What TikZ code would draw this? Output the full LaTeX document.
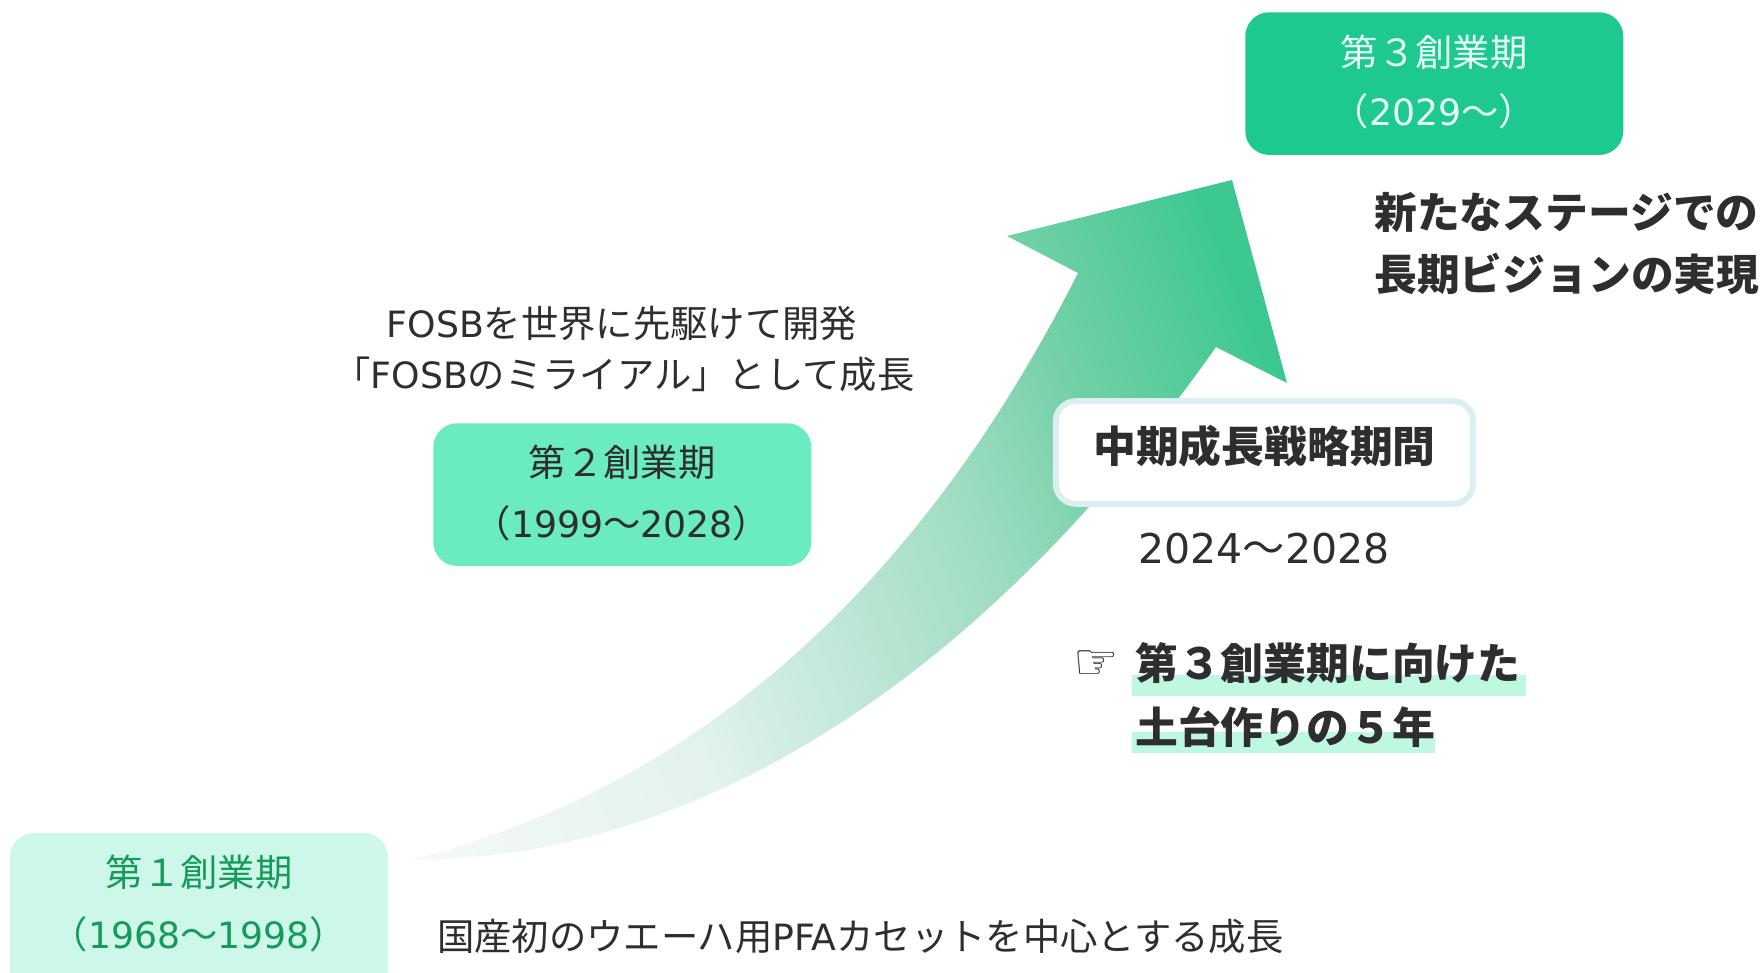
\documentclass[tikz,border=0pt]{standalone}
\usepackage{fontspec}
\setmainfont{Noto Sans CJK JP}
\newfontfamily\latinf[Scale=0.97]{DejaVu Sans}
\newfontfamily\handf{DejaVu Sans}
\newcommand{\La}[1]{{\latinf #1}}
\definecolor{txt}{HTML}{2E2E2E}
\definecolor{boxa}{HTML}{CDF8E9}
\definecolor{boxb}{HTML}{6AEBC0}
\definecolor{boxc}{HTML}{1DC98F}
\definecolor{texta}{HTML}{169A5C}
\definecolor{textc}{HTML}{E6FFF5}
\definecolor{hilite}{HTML}{BFF8E0}
\definecolor{midb}{HTML}{DCEFF0}
\definecolor{gA}{HTML}{F5F9F9}
\definecolor{gB}{HTML}{E3F2EE}
\definecolor{gC}{HTML}{9CDCC0}
\definecolor{gD}{HTML}{75D0A8}
\definecolor{gE}{HTML}{3CC890}
\pgfdeclarehorizontalshading{arrowgrad}{100bp}{
  color(0bp)=(gA); color(27bp)=(gA); color(42.5bp)=(gB); color(60bp)=(gC); color(66.5bp)=(gD); color(76.5bp)=(gE); color(100bp)=(gE)}
\tikzset{
  x=0.75pt,y=-0.75pt,
  phasebox/.style={minimum width=283.5pt,minimum height=107pt,rounded corners=18pt,inner sep=0pt,anchor=north west},
  body/.style={font=\fontsize{28pt}{34pt}\selectfont,text=txt,inner sep=0pt},
  strong/.style={font=\fontsize{32.1pt}{38pt}\selectfont\bfseries,text=txt,inner sep=0pt},
}
\begin{document}
\begin{tikzpicture}
\useasboundingbox (0,0) rectangle (1763,973);
% highlights
\fill[hilite] (1132,675) rectangle (1526,696);
\fill[hilite] (1132,732) rectangle (1435,753);
% arrow
\begin{scope}
\clip (410,860) .. controls (670,795) and (905,615) .. (1078,273)
  -- (1007,236) -- (1232,180) -- (1287,383) -- (1216,347)
  .. controls (985,675) and (700,860) .. (410,860) -- cycle;
\node[inner sep=0pt,rotate=22,scale=14.94] (gradfill) at (780,555) {\pgfuseshading{arrowgrad}};
\end{scope}
% boxes
\path[fill=boxa,rounded corners=18pt] (10,833) rectangle (388,1040);
\node[body,text=texta] (p1a) at (199,872) {第１創業期};
\node[body,text=texta] (p1b) at (199,934) {（\La{1968}～\La{1998}）};
\node[phasebox,fill=boxb] (p2) at (433,423) {};
\node[body] (p2a) at (622,462) {第２創業期};
\node[body] (p2b) at (622,523) {（\La{1999}～\La{2028}）};
\node[phasebox,fill=boxc] (p3) at (1245,12) {};
\node[body,text=textc] (p3a) at (1434,52) {第３創業期};
\node[body,text=textc] (p3b) at (1434,111) {（\La{2029}～）};
\node[body] (d2a) at (622,323) {\La{FOSB}を世界に先駆けて開発};
\node[body] (d2b) at (624,374) {「\La{FOSB}のミライアル」として成長};
\node[body,anchor=west] (d1) at (437,936) {国産初のウエーハ用\La{PFA}カセットを中心とする成長};
\node[strong,anchor=west] (d3a) at (1374,212) {新たなステージでの};
\node[strong,anchor=west] (d3b) at (1374,274) {長期ビジョンの実現};
\node[draw=midb,line width=4.5pt,fill=white,rounded corners=15pt,minimum width=313pt,minimum height=77pt,inner sep=0pt] (mid) at (1264.5,452.5) {};
\node[strong] (midt) at (1264.5,446) {中期成長戦略期間};
\node[body,font=\fontsize{31.7pt}{38pt}\selectfont] (yrs) at (1264,549) {\La{2024}～\La{2028}};
\node[inner sep=0pt,text=txt,font=\handf\fontsize{38pt}{38pt}\selectfont] (hand) at (1096,665) {☞};
\node[strong,anchor=west] (g1) at (1135,663) {第３創業期に向けた};
\node[strong,anchor=west] (g2) at (1135,727) {土台作りの５年};
\end{tikzpicture}
\end{document}
